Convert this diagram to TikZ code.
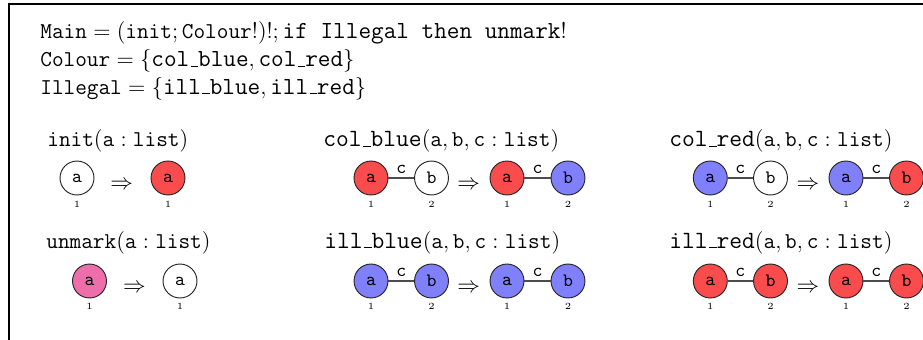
\documentclass[tikz,border=0pt]{standalone}
\definecolor{myred}{RGB}{250,76,76}
\definecolor{myblue}{RGB}{128,128,252}
\definecolor{mypink}{RGB}{238,110,172}
\newcommand{\usc}{\kern.06em\vbox{\hrule width.3em height.55pt}}
\begin{document}
\begin{tikzpicture}[x=0.53pt,y=-0.53pt,
  vtx/.style={circle,draw=black!85,line width=0.5pt,minimum size=18pt,inner sep=0pt,font=\ttfamily},
  wh/.style={vtx,fill=white},
  rd/.style={vtx,fill=myred},
  bl/.style={vtx,fill=myblue},
  pk/.style={vtx,fill=mypink},
  idx/.style={font=\tiny,inner sep=0pt},
  edg/.style={draw=black!70,line width=0.6pt},
  elab/.style={font=\ttfamily,inner sep=2pt,above},
  ttl/.style={font=\fontsize{13.15}{15}\selectfont,anchor=base west,inner sep=0pt},
  hdr/.style={font=\fontsize{13.0}{15}\selectfont,anchor=base west,inner sep=0pt},
  arr/.style={font=\large,inner sep=0pt}]
\useasboundingbox (0,0) rectangle (923,339);
\clip (0,0) rectangle (923,339);
\draw[line width=0.55pt] (9,4) rectangle (1000,400);

% header
\node[hdr] (h1) at (40,38.3) {$\mathtt{Main} = (\mathtt{init}; \mathtt{Colour}!)!; \texttt{if Illegal then unmark}!$};
\node[hdr] (h2) at (40,66.7) {$\mathtt{Colour} = \{\texttt{col\usc blue}, \texttt{col\usc red}\}$};
\node[hdr] (h3) at (40,94.3) {$\mathtt{Illegal} = \{\texttt{ill\usc blue}, \texttt{ill\usc red}\}$};

% init
\node[ttl] (t1) at (47,146.7) {$\mathtt{init}(\mathtt{a} : \mathtt{list})$};
\node[wh] (i1) at (77,178) {a};
\node[arr] (ia) at (121.7,185) {$\Rightarrow$};
\node[rd] (i2) at (168,178) {a};
\node[idx] (i1l) at (77,204) {1};
\node[idx] (i2l) at (168,204) {1};

% col_blue
\node[ttl] (t2) at (323,146.7) {$\texttt{col\usc blue}(\mathtt{a}, \mathtt{b}, \mathtt{c} : \mathtt{list})$};
\node[rd] (cb1) at (371,178) {a};
\node[wh] (cb2) at (431.5,178) {b};
\draw[edg] (cb1) -- node[elab] (cbc) {c} (cb2);
\node[arr] (cba) at (468.7,185) {$\Rightarrow$};
\node[rd] (cb3) at (507,178) {a};
\node[bl] (cb4) at (568,178) {b};
\draw[edg] (cb3) -- node[elab] (cbd) {c} (cb4);
\node[idx] (cb1l) at (371,204) {1};
\node[idx] (cb2l) at (431.5,204) {2};
\node[idx] (cb3l) at (507,204) {1};
\node[idx] (cb4l) at (568,204) {2};

% col_red
\node[ttl] (t3) at (669,146.7) {$\texttt{col\usc red}(\mathtt{a}, \mathtt{b}, \mathtt{c} : \mathtt{list})$};
\node[bl] (cr1) at (710.3,178) {a};
\node[wh] (cr2) at (770.5,178) {b};
\draw[edg] (cr1) -- node[elab] (crc) {c} (cr2);
\node[arr] (cra) at (808,185) {$\Rightarrow$};
\node[bl] (cr3) at (846,178) {a};
\node[rd] (cr4) at (906.5,178) {b};
\draw[edg] (cr3) -- node[elab] (crd) {c} (cr4);
\node[idx] (cr1l) at (710.3,204) {1};
\node[idx] (cr2l) at (770.5,204) {2};
\node[idx] (cr3l) at (846,204) {1};
\node[idx] (cr4l) at (906.5,204) {2};

% unmark
\node[ttl] (t4) at (46,248.3) {$\mathtt{unmark}(\mathtt{a} : \mathtt{list})$};
\node[pk] (u1) at (89.5,281) {a};
\node[arr] (ua) at (134.5,288) {$\Rightarrow$};
\node[wh] (u2) at (180,281) {a};
\node[idx] (u1l) at (89.5,306) {1};
\node[idx] (u2l) at (180,306) {1};

% ill_blue
\node[ttl] (t5) at (324,248.3) {$\texttt{ill\usc blue}(\mathtt{a}, \mathtt{b}, \mathtt{c} : \mathtt{list})$};
\node[bl] (ib1) at (371,281) {a};
\node[bl] (ib2) at (431.5,281) {b};
\draw[edg] (ib1) -- node[elab] (ibc) {c} (ib2);
\node[arr] (iba) at (468.7,288) {$\Rightarrow$};
\node[bl] (ib3) at (507,281) {a};
\node[bl] (ib4) at (568,281) {b};
\draw[edg] (ib3) -- node[elab] (ibd) {c} (ib4);
\node[idx] (ib1l) at (371,306) {1};
\node[idx] (ib2l) at (431.5,306) {2};
\node[idx] (ib3l) at (507,306) {1};
\node[idx] (ib4l) at (568,306) {2};

% ill_red
\node[ttl] (t6) at (669,248.3) {$\texttt{ill\usc red}(\mathtt{a}, \mathtt{b}, \mathtt{c} : \mathtt{list})$};
\node[rd] (ir1) at (710.3,281) {a};
\node[rd] (ir2) at (770.5,281) {b};
\draw[edg] (ir1) -- node[elab] (irc) {c} (ir2);
\node[arr] (ira) at (808,288) {$\Rightarrow$};
\node[rd] (ir3) at (846,281) {a};
\node[rd] (ir4) at (906.5,281) {b};
\draw[edg] (ir3) -- node[elab] (ird) {c} (ir4);
\node[idx] (ir1l) at (710.3,306) {1};
\node[idx] (ir2l) at (770.5,306) {2};
\node[idx] (ir3l) at (846,306) {1};
\node[idx] (ir4l) at (906.5,306) {2};
\end{tikzpicture}
\end{document}
